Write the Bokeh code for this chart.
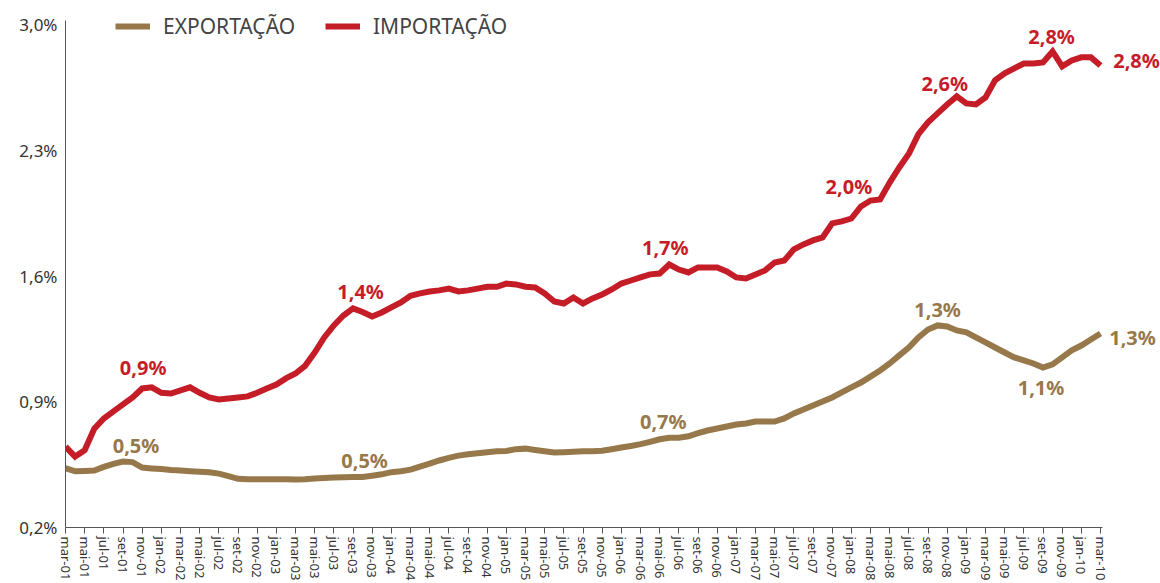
from bokeh.plotting import figure
from bokeh.models import (Range1d, FixedTicker, Label, Legend, LegendItem, ColumnDataSource)
from bokeh.embed import file_html
from bokeh.resources import INLINE

# ---- data ----
months_pt = ["jan", "fev", "mar", "abr", "mai", "jun", "jul", "ago", "set", "out", "nov", "dez"]
month_labels = []
for k in range(109):
    m = (2 + k) % 12
    y = 1 + (2 + k) // 12
    month_labels.append(f"{months_pt[m]}-{y:02d}")

exportacao = [
    0.530, 0.513, 0.515, 0.517, 0.537, 0.554, 0.567, 0.564, 0.534, 0.529,
    0.525, 0.520, 0.517, 0.513, 0.510, 0.508, 0.500, 0.486, 0.471, 0.469,
    0.469, 0.469, 0.468, 0.468, 0.467, 0.469, 0.473, 0.475, 0.478, 0.480,
    0.481, 0.481, 0.488, 0.496, 0.508, 0.513, 0.522, 0.539, 0.556, 0.573,
    0.588, 0.600, 0.608, 0.613, 0.619, 0.624, 0.626, 0.636, 0.639, 0.631,
    0.624, 0.617, 0.619, 0.622, 0.624, 0.625, 0.627, 0.636, 0.645, 0.654,
    0.664, 0.677, 0.691, 0.700, 0.700, 0.708, 0.725, 0.740, 0.751, 0.762,
    0.773, 0.779, 0.790, 0.790, 0.790, 0.807, 0.835, 0.857, 0.879, 0.902,
    0.924, 0.952, 0.980, 1.007, 1.040, 1.074, 1.113, 1.158, 1.202, 1.258,
    1.302, 1.325, 1.319, 1.297, 1.286, 1.258, 1.230, 1.202, 1.174, 1.147,
    1.130, 1.113, 1.090, 1.108, 1.147, 1.186, 1.213, 1.247, 1.280,
]

importacao = [
    0.650, 0.595, 0.630, 0.750, 0.807, 0.846, 0.885, 0.924, 0.974, 0.980,
    0.950, 0.946, 0.963, 0.980, 0.950, 0.924, 0.913, 0.918, 0.924, 0.930,
    0.950, 0.974, 0.996, 1.030, 1.057, 1.100, 1.174, 1.258, 1.325, 1.380,
    1.420, 1.400, 1.375, 1.397, 1.425, 1.453, 1.490, 1.503, 1.514, 1.520,
    1.530, 1.514, 1.520, 1.530, 1.540, 1.540, 1.558, 1.553, 1.540, 1.536,
    1.503, 1.458, 1.447, 1.480, 1.447, 1.475, 1.497, 1.525, 1.558, 1.575,
    1.592, 1.609, 1.614, 1.664, 1.636, 1.620, 1.648, 1.648, 1.648, 1.625,
    1.592, 1.586, 1.609, 1.631, 1.675, 1.686, 1.748, 1.776, 1.798, 1.815,
    1.893, 1.904, 1.920, 1.987, 2.020, 2.026, 2.120, 2.204, 2.280, 2.390,
    2.455, 2.505, 2.555, 2.600, 2.561, 2.555, 2.594, 2.689, 2.728, 2.756,
    2.783, 2.783, 2.789, 2.850, 2.767, 2.800, 2.817, 2.817, 2.772,
]

y_ticks = [0.2, 0.9, 1.6, 2.3, 3.0]
y_tick_labels = ["0,2%", "0,9%", "1,6%", "2,3%", "3,0%"]

# annotations: (index, text, dx px, dy px)
exp_labels = [(6, "0,5%", 13, 16), (31, "0,5%", 2, 17), (63, "0,7%", -6, 16),
              (91, "1,3%", 0, 16), (102, "1,1%", -2, -20), (108, "1,3%", 32, -4)]
imp_labels = [(8, "0,9%", 1, 21), (31, "1,4%", -2, 20), (63, "1,7%", -4, 17),
              (83, "2,0%", -12, 20), (93, "2,6%", -12, 13), (103, "2,8%", -1, 15),
              (108, "2,8%", 36, 5)]

BROWN = "#97784A"
RED = "#C51D27"
FONT = "Noto Sans"

n = len(exportacao)
idx = list(range(n))
src = ColumnDataSource(dict(x=idx, exp=exportacao, imp=importacao))

PX_PER_MONTH = 1035 / 108.0
PX_PER_UNIT = 503 / 2.8
x_max = 1095 / PX_PER_MONTH
y_max = 0.2 + 527 / PX_PER_UNIT

p = figure(width=1160, height=583, output_backend="svg", toolbar_location=None,
           x_range=Range1d(0, x_max), y_range=Range1d(0.2, y_max),
           min_border_left=65, min_border_right=0, min_border_top=0, min_border_bottom=56)
p.outline_line_color = None
p.xgrid.visible = False
p.ygrid.visible = False

r_exp = p.line("x", "exp", source=src, line_color=BROWN, line_width=6, line_join="miter")
r_imp = p.line("x", "imp", source=src, line_color=RED, line_width=6, line_join="miter")

# axes
xa = p.xaxis[0]
xa.bounds = (0, n - 1 + 0.2)
xa.ticker = FixedTicker(ticks=list(range(0, n, 2)))
xa.major_label_overrides = {i: month_labels[i] for i in range(0, n, 2)}
xa.major_label_orientation = "vertical"
xa.major_tick_out = 6
xa.major_tick_in = 0
xa.minor_tick_out = 0
xa.minor_tick_in = 0
xa.axis_line_color = "#555555"
xa.major_tick_line_color = "#555555"
xa.major_label_text_font = FONT
xa.major_label_text_font_size = "13px"
xa.major_label_text_color = "#333333"
xa.major_label_standoff = 3

ya = p.yaxis[0]
ya.bounds = (0.2, 3.02)
ya.ticker = FixedTicker(ticks=y_ticks)
ya.major_label_overrides = {t: l for t, l in zip(y_ticks, y_tick_labels)}
ya.major_tick_out = 0
ya.major_tick_in = 0
ya.minor_tick_out = 0
ya.minor_tick_in = 0
ya.axis_line_color = "#555555"
ya.major_label_text_font = FONT
ya.major_label_text_font_size = "17px"
ya.major_label_text_color = "#333333"
ya.major_label_standoff = 8

# value labels
for i, t, dx, dy in exp_labels:
    p.add_layout(Label(x=i, y=exportacao[i], text=t, x_offset=dx, y_offset=dy,
                       text_align="center", text_baseline="middle",
                       text_font=FONT, text_font_style="bold",
                       text_font_size="20px", text_color=BROWN))
for i, t, dx, dy in imp_labels:
    p.add_layout(Label(x=i, y=importacao[i], text=t, x_offset=dx, y_offset=dy,
                       text_align="center", text_baseline="middle",
                       text_font=FONT, text_font_style="bold",
                       text_font_size="20px", text_color=RED))

# legends (location in px from frame bottom-left)
def make_legend(label, renderer, x):
    return Legend(items=[LegendItem(label=label, renderers=[renderer])],
                  location=(x, 583 - 56 - 40), orientation="horizontal",
                  padding=0, margin=0, spacing=0,
                  glyph_width=35, glyph_height=20, label_height=20, label_standoff=13,
                  label_text_font=FONT, label_text_font_size="21px",
                  label_text_color="#444444",
                  border_line_alpha=0, background_fill_alpha=0)

p.add_layout(make_legend("EXPORTAÇÃO", r_exp, 50))
p.add_layout(make_legend("IMPORTAÇÃO", r_imp, 260))

open("out.html", "w").write(file_html(p, INLINE))
